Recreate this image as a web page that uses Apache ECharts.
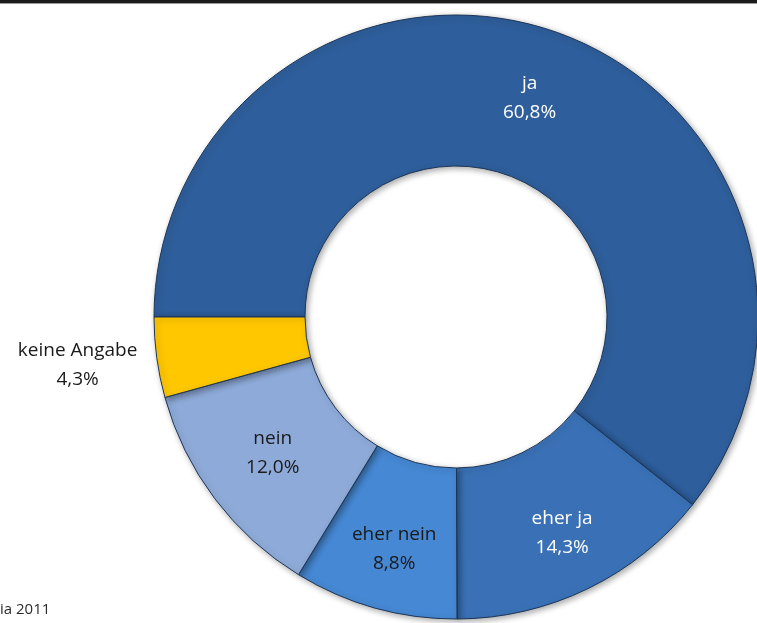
<!DOCTYPE html>
<html>
<head>
<meta charset="utf-8">
<script src="https://cdn.jsdelivr.net/npm/echarts@6/dist/echarts.min.js"></script>
<style>
  html, body { margin: 0; padding: 0; background: #fff; }
  #chart { width: 757px; height: 623px; }
</style>
</head>
<body>
<div id="chart"></div>
<script>
// Survey answers, shares in percent
const categories = ['ja', 'eher ja', 'eher nein', 'nein', 'keine Angabe'];
const shares = [60.8, 14.3, 8.8, 12.0, 4.3];
const sliceColors = ['#2e5e9b', '#3a71b6', '#4688d3', '#8eaad8', '#ffc700'];
const labelColors = ['#ffffff', '#ffffff', '#1a1a1a', '#1a1a1a', '#1a1a1a'];
// small nudges of the in-slice labels, in px
const labelOffsets = [[-2, -2], [6, 10], [0, 11], [0, -2], [-151, 17]];
const sourceNote = 'ia 2011';

const fmt = v => v.toFixed(1).replace('.', ',') + '%';

const data = categories.map((name, i) => ({
  name,
  value: shares[i],
  itemStyle: { color: sliceColors[i] },
  label: { color: labelColors[i], offset: labelOffsets[i] }
}));

const chart = echarts.init(document.getElementById('chart'), null, { renderer: 'canvas' });
chart.setOption({
  animation: false,
  graphic: [
    { type: 'rect', shape: { x: 0, y: 0, width: 757, height: 3 }, style: { fill: '#1c1c1c' } },
    { type: 'rect', shape: { x: 0, y: 3, width: 757, height: 1 }, style: { fill: '#9a9a9a' } },
    { type: 'text', left: 0, top: 602, style: { text: sourceNote, font: '15px "Open Sans"', fill: '#2a2a2a' } }
  ],
  series: [{
    type: 'pie',
    center: [456, 317],
    radius: [151, 302],
    startAngle: 180,
    clockwise: true,
    avoidLabelOverlap: false,
    itemStyle: {
      borderColor: '#1d3556',
      borderWidth: 1,
      shadowBlur: 6,
      shadowOffsetX: 2,
      shadowOffsetY: 2,
      shadowColor: 'rgba(0,0,0,0.35)'
    },
    label: {
      show: true,
      position: 'inside',
      fontFamily: 'Open Sans',
      fontSize: 19,
      lineHeight: 29,
      align: 'center',
      formatter: p => p.name + '\n' + fmt(p.value)
    },
    labelLine: { show: false },
    data
  }]
});
</script>
</body>
</html>
